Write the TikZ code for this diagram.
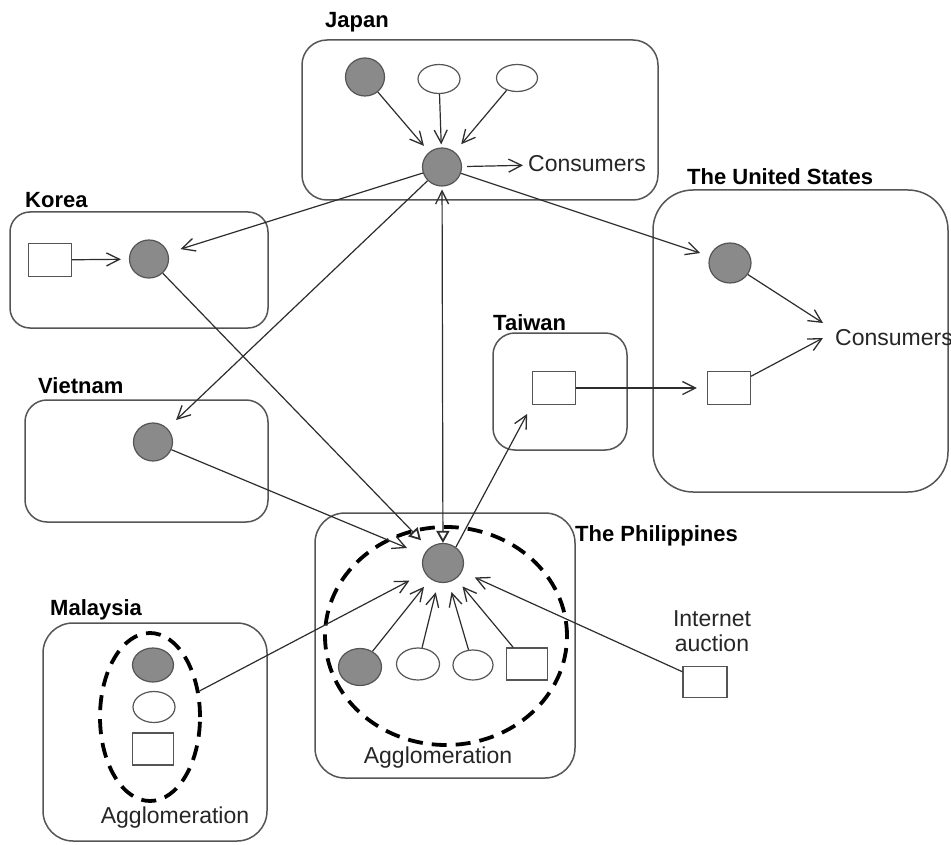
\documentclass[tikz,border=0pt]{standalone}
\usepackage{fontspec}
\setmainfont{Liberation Sans}
\usetikzlibrary{arrows.meta,shapes.geometric}
\definecolor{dotgray}{RGB}{138,138,138}
\definecolor{boxline}{RGB}{85,85,85}
\definecolor{linecol}{RGB}{45,45,45}
\begin{document}
\begin{tikzpicture}[x=1pt,y=-1pt,
  region/.style={draw=boxline,line width=1.5pt,rounded corners=#1},
  gcirc/.style={ellipse,draw=boxline,fill=dotgray,line width=1.2pt,inner sep=0pt,minimum width=39pt,minimum height=38pt},
  wov/.style={ellipse,draw=boxline,fill=white,line width=1.2pt,inner sep=0pt,minimum width=42pt,minimum height=29pt},
  sq/.style={rectangle,draw=boxline,fill=white,line width=1.2pt,inner sep=0pt,minimum width=43pt,minimum height=33pt},
  agg/.style={ellipse,draw=black,line width=3.8pt,dash pattern=on 15pt off 9pt,inner sep=0pt},
  lbl/.style={font=\fontsize{22}{26}\selectfont\bfseries,inner sep=0pt,anchor=west},
  txt/.style={font=\fontsize{23}{25}\selectfont,inner sep=0pt,text=black!85},
  conn/.style={draw=linecol,line width=1.2pt,-{Straight Barb[length=13pt,width=13pt,line width=1.3pt]}},
  tri/.style={draw=linecol,line width=1.2pt,-{Triangle[open,length=12pt,width=13pt,line width=1.8pt]}},
  both/.style={draw=linecol,line width=1.2pt,{Straight Barb[length=13pt,width=13pt,line width=1.3pt]}-{Triangle[open,length=12pt,width=13pt,line width=1.8pt]}}
]
\useasboundingbox (0,0) rectangle (951,845);
\fill[white] (0,0) rectangle (951,845);

% region boxes
\draw[region=25pt] (302,40) rectangle (658,200);
\draw[region=20pt] (10,212) rectangle (268,328);
\draw[region=22pt] (25,400) rectangle (268,522);
\draw[region=40pt] (653,190) rectangle (948,492);
\draw[region=22pt] (493,333) rectangle (627,450);
\draw[region=30pt] (315,513) rectangle (575,778);
\draw[region=30pt] (43,623) rectangle (267,841);

% labels
\node[lbl] (ljp) at (325,22) {Japan};
\node[lbl] (lkr) at (25,200) {Korea};
\node[lbl] (lvn) at (38,386) {Vietnam};
\node[lbl] (lus) at (687,177) {The United States};
\node[lbl] (ltw) at (493,323) {Taiwan};
\node[lbl] (lph) at (575,536) {The Philippines};
\node[lbl] (lmy) at (50,610) {Malaysia};

% Japan
\node[gcirc] (jp1) at (365,77) {};
\node[wov] (jp2) at (439,79) {};
\node[wov,minimum width=41pt,minimum height=27pt] (jp3) at (517,78) {};
\node[gcirc] (jpc) at (442,167) {};
\node[txt,anchor=west] (jpcons) at (528,164) {Consumers};

% Korea
\node[sq] (krs) at (50,260) {};
\node[gcirc] (krc) at (149,259) {};

% Vietnam
\node[gcirc] (vnc) at (153,442) {};

% United States
\node[gcirc,minimum width=42pt,minimum height=40pt] (usc) at (730,263) {};
\node[sq] (uss) at (729,388) {};
\node[txt,anchor=west] (uscons) at (835,338) {Consumers};
\coordinate (usin1) at (823,323);
\coordinate (usin2) at (823,338);

% Taiwan
\node[sq] (tws) at (554,388) {};

% Philippines
\node[agg,minimum width=242pt,minimum height=218pt] (phagg) at (446,636) {};
\node[gcirc,minimum width=41pt,minimum height=39pt] (phc) at (443,563) {};
\node[gcirc,minimum width=43pt,minimum height=37pt] (ph1) at (360,667) {};
\node[wov,minimum width=43pt,minimum height=32pt] (ph2) at (418,664) {};
\node[wov,minimum width=40pt,minimum height=30pt] (ph3) at (473,665) {};
\node[sq,minimum width=41pt,minimum height=32pt] (ph4) at (527,664) {};
\node[txt] (phtxt) at (438,758) {Agglomeration};

% Malaysia
\node[agg,minimum width=100pt,minimum height=168pt] (myagg) at (150,717) {};
\node[gcirc,minimum width=41pt,minimum height=34pt] (my1) at (153,665) {};
\node[wov,minimum width=42pt,minimum height=31pt] (my2) at (154,707) {};
\node[sq,minimum width=41pt,minimum height=32pt] (my3) at (153,749) {};
\node[txt] (mytxt) at (175,818) {Agglomeration};

% Internet auction
\node[txt,align=center] (ia) at (712,631) {Internet\\auction};
\node[sq,minimum width=44pt,minimum height=31pt] (ias) at (705,682) {};

% connectors in Japan
\draw[conn,shorten >=8pt] (jp1) -- (jpc);
\draw[conn,shorten >=3pt] (jp2) -- (jpc);
\draw[conn,shorten >=10pt] (jp3) -- (jpc);
\draw[conn,shorten <=5pt,shorten >=5pt] (jpc) -- (jpcons);

% from Japan outward
\draw[conn,shorten >=13pt] (jpc) -- (krc);
\draw[conn,shorten >=12pt] (jpc) -- (vnc);
\draw[conn,shorten >=10pt] (jpc) -- (usc);
\draw[both,shorten <=3pt] (jpc) -- (phc);

% Korea
\draw[conn,shorten >=8pt] (krs) -- (krc);
\draw[tri,shorten >=11pt] (krc) -- (phc);

% into the Philippines
\draw[conn,shorten >=18pt] (vnc) -- (phc);
\draw[conn,shorten >=17pt] (myagg) -- (phc);
\draw[conn,shorten >=14pt] (ias) -- (phc);
\draw[conn,shorten >=10pt] (ph1) -- (phc);
\draw[conn,shorten >=10pt] (ph2) -- (phc);
\draw[conn,shorten >=10pt] (ph3) -- (phc);
\draw[conn,shorten >=10pt] (ph4) -- (phc);

% Philippines -> Taiwan -> US
\draw[conn,shorten >=10pt] (phc.51) -- (tws.south west);
\draw[conn,shorten >=10pt] (tws) -- (uss);
\draw[conn] (usc) -- (usin1);
\draw[conn] (uss) -- (usin2);
\end{tikzpicture}
\end{document}
